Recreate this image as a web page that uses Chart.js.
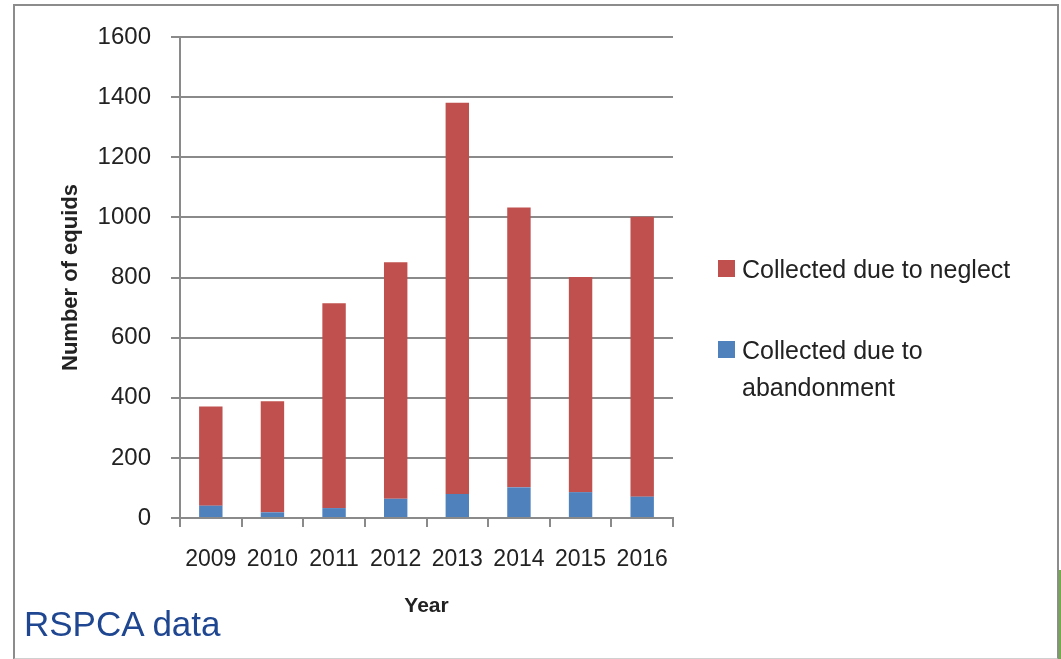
<!DOCTYPE html>
<html>
<head>
<meta charset="utf-8">
<script src="https://cdn.jsdelivr.net/npm/chart.js@4"></script>
<style>
    html, body { margin: 0; padding: 0; background: #fff; }
    #page { position: relative; width: 1061px; height: 659px; overflow: hidden; font-family: "Liberation Sans", Arial, sans-serif; }
    #frame { position: absolute; left: 13px; top: 4px; width: 1042px; height: 652px; border: 2px solid #8c8c8c; border-bottom-color: #d0d0d0; }
    #green { position: absolute; left: 1059px; top: 570px; width: 2px; height: 89px; background: #70ad47; }
    #chart-box { position: absolute; left: 0; top: 0; width: 1061px; height: 659px; }
    #legend { position: absolute; left: 718px; top: 251px; color: #222; font-size: 25px; }
    .item { position: relative; padding-left: 24px; line-height: 37px; }
    .item .sw { position: absolute; left: 0; top: 9px; width: 17px; height: 17px; }
    #source { position: absolute; left: 24px; top: 604px; color: #1f4690; font-size: 35px; }
</style>
</head>
<body>
<div id="page">
    <div id="frame"></div>
    <div id="green"></div>
    <div id="chart-box"><canvas id="bar-chart" width="1061" height="659"></canvas></div>
    <div id="legend"></div>
    <div id="source">RSPCA data</div>
</div>
<script>
const years = ['2009', '2010', '2011', '2012', '2013', '2014', '2015', '2016'];
// 방치로 수거된 수 (파란색)
const abandonment = [41, 19, 33, 64, 80, 102, 86, 71];
// 학대/방임으로 수거된 수 (빨간색)
const neglect = [330, 369, 681, 787, 1301, 931, 716, 931];
const yTicks = [0, 200, 400, 600, 800, 1000, 1200, 1400, 1600];

const RED = '#c0504d';
const BLUE = '#4f81bd';
const GRID = '#8a8a8a';
const TEXT = '#222';

// legend (두 번째 항목은 두 줄로 나뉨)
const legendItems = [
    { color: RED, lines: ['Collected due to neglect'] },
    { color: BLUE, lines: ['Collected due to', 'abandonment'] },
];
const $legend = document.getElementById('legend');
legendItems.forEach((item, i) => {
    const div = document.createElement('div');
    div.className = 'item';
    if (i > 0) div.style.marginTop = '44px';
    div.innerHTML = `<span class="sw" style="background:${item.color}"></span>` + item.lines.join('<br>');
    $legend.appendChild(div);
});

const ctx = document.getElementById('bar-chart').getContext('2d');
new Chart(ctx, {
    type: 'bar',
    data: {
        labels: years,
        datasets: [
            { label: 'Collected due to abandonment', data: abandonment, backgroundColor: BLUE },
            { label: 'Collected due to neglect', data: neglect, backgroundColor: RED },
        ]
    },
    options: {
        responsive: false,
        animation: false,
        devicePixelRatio: 1,
        layout: { padding: { left: 40, top: 37, right: 388, bottom: 30 } },
        datasets: { bar: { barPercentage: 0.38, categoryPercentage: 1 } },
        plugins: { legend: { display: false }, tooltip: { enabled: false } },
        scales: {
            x: {
                stacked: true,
                afterFit: s => { s.height = 111; },
                border: { color: GRID, width: 2 },
                grid: { offset: true, drawOnChartArea: false, color: GRID, lineWidth: 2, tickLength: 9 },
                ticks: { color: TEXT, font: { size: 23, family: 'Liberation Sans' }, padding: 19, maxRotation: 0, autoSkip: false },
                title: { display: true, text: 'Year', color: TEXT, font: { size: 21, weight: 'bold', family: 'Liberation Sans' }, padding: { top: 0, bottom: 10 } }
            },
            y: {
                stacked: true,
                min: 0,
                max: 1600,
                afterFit: s => { s.width = 140; },
                afterBuildTicks: s => { s.ticks = yTicks.map(v => ({ value: v })); },
                border: { color: GRID, width: 2 },
                grid: { color: GRID, lineWidth: 2, tickLength: 9 },
                ticks: { color: TEXT, font: { size: 24, family: 'Liberation Sans' }, padding: 20, callback: v => String(v) },
                title: { display: true, text: 'Number of equids', color: TEXT, font: { size: 22, weight: 'bold', family: 'Liberation Sans' }, padding: { top: 18, bottom: 0 } }
            }
        }
    }
});
</script>
</body>
</html>
